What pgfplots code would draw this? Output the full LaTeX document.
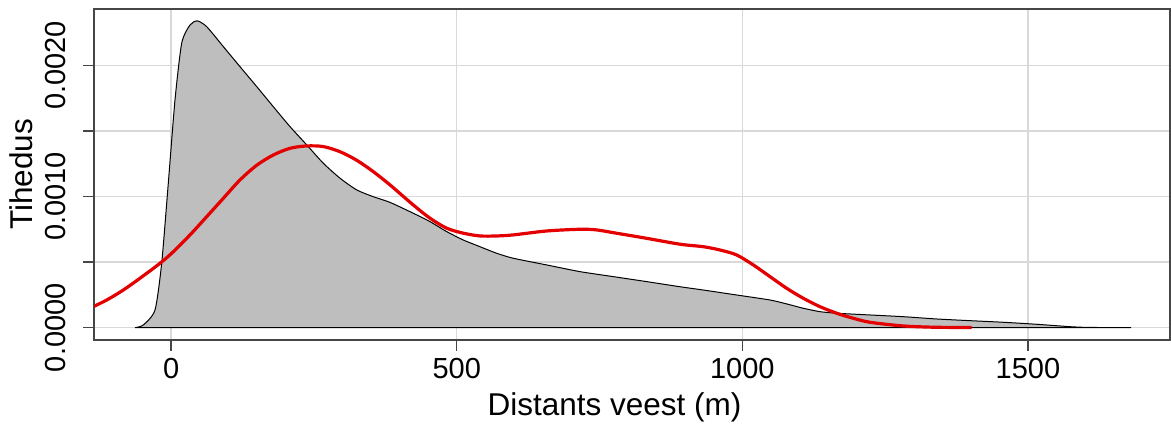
\documentclass[border=0pt]{standalone}
\usepackage{pgfplots}
\pgfplotsset{compat=1.18}
\usepackage{fontspec}
\setmainfont{Liberation Sans}
\definecolor{gridgray}{RGB}{217,217,217}
\definecolor{fillgray}{RGB}{190,190,190}
\definecolor{rred}{RGB}{228,0,0}
\definecolor{boxgray}{RGB}{70,70,70}
\begin{document}
\begin{tikzpicture}
\begin{axis}[
  scale only axis,
  width=537.85pt, height=165.65pt,
  xmin=-134.5, xmax=1748.8,
  ymin=-0.0000938, ymax=0.002431,
  scaled y ticks=false, scaled x ticks=false,
  axis line style={boxgray, line width=0.9pt},
  xtick={0,500,1000,1500},
  xticklabels={0,500,1000,1500},
  ytick={0,0.0005,0.001,0.0015,0.002},
  yticklabels={0.0000,,0.0010,,0.0020},
  tick align=outside,
  major tick length=5.5pt,
  tick style={boxgray, line width=0.7pt},
  xtick pos=bottom, ytick pos=left,
  grid=major,
  major grid style={gridgray, line width=0.65pt},
  ticklabel style={font=\fontsize{14.5}{16}\selectfont},
  yticklabel style={xshift=-8.5pt, rotate=90, anchor=south, inner sep=0pt},
  xticklabel style={anchor=base, inner sep=0pt, yshift=-14pt},
  clip=true,
]
\addplot[fill=fillgray, draw=black, line width=0.5pt, smooth, tension=0.4] coordinates {
(-63.2,0) (-48.7,0.0000206) (-28.2,0.000135) (-16.5,0.000493) (-4.9,0.001103)
(6.8,0.001736) (18.6,0.00217) (33.1,0.002307) (45.9,0.002338) (62.3,0.002294)
(91.4,0.002142) (120.6,0.001989) (149.9,0.001837) (178.9,0.001684) (208.2,0.001532)
(237.4,0.001393) (266.5,0.001253) (295.7,0.001139) (324.9,0.00105) (354,0.000998)
(383.2,0.000955) (424,0.000872) (453.3,0.000808) (482.5,0.000732) (511.6,0.000668)
(540.8,0.000617) (570,0.000567) (599.1,0.000529) (657.6,0.000478) (715.9,0.000427)
(774.2,0.000389) (832.6,0.000351) (890.9,0.000312) (931.7,0.000287) (990.2,0.000249)
(1048.5,0.000211) (1077.7,0.000181) (1106.8,0.000148) (1136,0.000122) (1165.3,0.00011)
(1223.6,0.0000968) (1281.9,0.0000838) (1340.3,0.0000663) (1398.7,0.0000534)
(1457,0.0000412) (1515.4,0.0000259) (1573.7,0.0000076) (1605,0.000002) (1680.6,0)
} \closedcycle;
\addplot[rred, line width=1.6pt, smooth, tension=0.5] coordinates {
(-142,0.000148) (-112.7,0.000211) (-83.7,0.000287) (-54.4,0.000377) (-19.4,0.000491)
(3.9,0.000579) (33.1,0.000707) (62.3,0.000846) (91.4,0.000986) (120.6,0.001126)
(149.9,0.001238) (178.9,0.001316) (208.2,0.001367) (237.4,0.001385) (266.5,0.00138)
(295.7,0.001341) (324.9,0.001276) (354,0.001189) (383.2,0.001088) (424,0.000935)
(453.3,0.000834) (482.5,0.000758) (511.6,0.00072) (540.8,0.000699) (570,0.000699)
(599.1,0.000707) (657.6,0.000737) (715.9,0.00075) (745.1,0.000745) (774.2,0.000724)
(832.6,0.000681) (890.9,0.000636) (931.7,0.000617) (960.9,0.000592) (990.2,0.000554)
(1019.3,0.000478) (1048.5,0.000389) (1077.7,0.0003) (1106.8,0.000224) (1136,0.00016)
(1165.3,0.00011) (1194.3,0.0000716) (1223.6,0.0000412) (1281.9,0.000013)
(1340.3,0.000003) (1401.6,0.000002)
};
\end{axis}
\node[rotate=90, anchor=base, font=\fontsize{15.75}{18}\selectfont] at ([xshift=-31pt]current axis.west) {Tihedus};
\node[anchor=base, font=\fontsize{15.75}{18}\selectfont] at ([xshift=260.1pt, yshift=-38pt]current axis.south west) {Distants veest (m)};
\pgfresetboundingbox
\path[use as bounding box] ([xshift=-47.15pt, yshift=-45pt]current axis.south west) rectangle ([xshift=0.5pt, yshift=4.35pt]current axis.north east);
\end{tikzpicture}
\end{document}
